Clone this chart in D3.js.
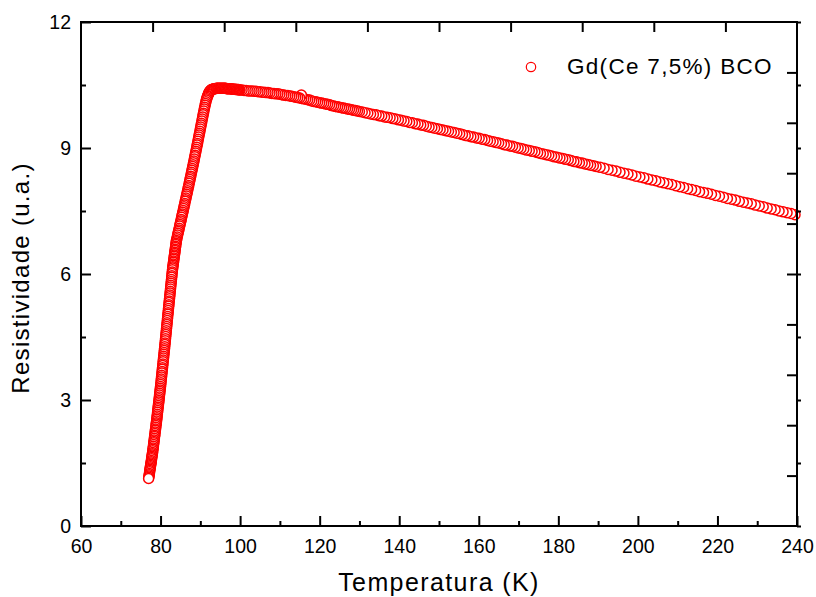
<!DOCTYPE html>
<html><head><meta charset="utf-8">
<script src="https://cdn.jsdelivr.net/npm/d3@7"></script>
<style>
body{margin:0;background:#fff}
svg{display:block}
text{font-family:Arial,"Liberation Sans",sans-serif;fill:#000}
</style>
</head><body>
<svg id="chart" width="816" height="597"></svg>
<script>
// ---- data ----
const tTransition = [
77.00,77.05,77.10,77.15,77.20,77.25,77.30,77.35,77.40,77.45,77.50,77.55,77.60,77.65,77.70,77.75,77.80,77.85,77.90,77.95,78.00,
78.05,78.10,78.15,78.20,78.25,78.30,78.35,78.40,78.45,78.50,78.55,78.60,78.65,78.70,78.75,78.80,78.85,78.90,78.95,79.00,
79.05,79.10,79.15,79.20,79.25,79.30,79.35,79.40,79.45,79.50,79.55,79.60,79.65,79.70,79.75,79.80,79.85,79.90,79.95,80.00,
80.05,80.10,80.15,80.20,80.25,80.30,80.35,80.40,80.45,80.50,80.55,80.60,80.65,80.70,80.75,80.80,80.85,80.90,80.95,81.00,
81.05,81.10,81.15,81.20,81.25,81.30,81.35,81.40,81.45,81.50,81.55,81.60,81.65,81.70,81.75,81.80,81.85,81.90,81.95,82.00,
82.05,82.10,82.15,82.20,82.25,82.30,82.35,82.40,82.45,82.50,82.55,82.60,82.65,82.70,82.75,82.80,82.85,82.90,82.95,83.00,
83.05,83.10,83.15,83.20,83.25,83.30,83.35,83.40,83.45,83.50,83.55,83.60,83.65,83.70,83.75,83.80,83.85,83.90,83.95,84.00,
84.1,84.2,84.3,84.4,84.5,84.6,84.7,84.8,84.9,85.0,
85.1,85.2,85.3,85.4,85.5,85.6,85.7,85.8,85.9,86.0,
86.1,86.2,86.3,86.4,86.5,86.6,86.7,86.8,86.9,87.0,
87.1,87.2,87.3,87.4,87.5,87.6,87.7,87.8,87.9,88.0,
88.1,88.2,88.3,88.4,88.5,88.6,88.7,88.8,88.9,89.0,
89.1,89.2,89.3,89.4,89.5,89.6,89.7,89.8,89.9,90.0,
90.1,90.2,90.3,90.4,90.5,90.6,90.7,90.8,90.9,91.0,
91.1,91.2,91.3,91.4,91.5,91.6,91.7,91.8,91.9,92.0,
92.1,92.2,92.3,92.4,92.5,92.6,92.7,92.8,92.9,93.0
];
const rTransition = [
1.13,1.16,1.19,1.22,1.25,1.29,1.32,1.35,1.38,1.41,1.44,1.47,1.50,1.53,1.56,1.60,1.63,1.66,1.69,1.72,1.75,
1.79,1.83,1.86,1.90,1.94,1.98,2.01,2.05,2.09,2.13,2.16,2.20,2.24,2.28,2.31,2.35,2.39,2.43,2.46,2.50,
2.54,2.58,2.62,2.66,2.71,2.75,2.79,2.83,2.87,2.91,2.95,2.99,3.03,3.07,3.12,3.16,3.20,3.24,3.28,3.32,
3.37,3.41,3.46,3.50,3.55,3.59,3.64,3.68,3.73,3.77,3.82,3.86,3.91,3.95,4.00,4.04,4.09,4.13,4.18,4.22,
4.27,4.32,4.36,4.41,4.46,4.51,4.56,4.60,4.65,4.70,4.75,4.80,4.84,4.89,4.94,4.99,5.04,5.08,5.13,5.18,
5.23,5.27,5.32,5.36,5.41,5.46,5.50,5.55,5.59,5.64,5.69,5.73,5.78,5.82,5.87,5.92,5.96,6.01,6.05,6.10,
6.14,6.17,6.21,6.24,6.28,6.31,6.35,6.38,6.42,6.45,6.49,6.52,6.56,6.59,6.63,6.66,6.70,6.73,6.77,6.80,
6.84,6.88,6.93,6.97,7.01,7.05,7.09,7.14,7.18,7.22,
7.26,7.30,7.35,7.39,7.43,7.47,7.51,7.56,7.60,7.64,
7.68,7.73,7.77,7.81,7.86,7.90,7.94,7.98,8.03,8.07,
8.11,8.16,8.20,8.25,8.29,8.33,8.38,8.42,8.47,8.51,
8.56,8.60,8.65,8.69,8.74,8.79,8.83,8.88,8.92,8.97,
9.02,9.07,9.11,9.16,9.21,9.26,9.31,9.35,9.40,9.45,
9.50,9.55,9.59,9.64,9.69,9.74,9.79,9.83,9.88,9.93,
9.97,10.02,10.06,10.10,10.14,10.17,10.20,10.23,10.25,10.28,
10.30,10.32,10.34,10.35,10.36,10.37,10.38,10.39,10.39,10.40
];
const tNormal = [
93.2,93.4,93.6,93.8,94.0,94.2,94.4,94.6,94.8,95.0,95.2,95.4,95.6,95.8,96.0,96.2,96.4,96.6,96.8,97.0,
97.2,97.4,97.6,97.8,98.0,98.2,98.4,98.6,98.8,99.0,99.2,99.4,99.6,99.8,100.0,
100.5,101.0,101.5,102.0,102.5,103.0,103.5,104.0,104.5,105.0,
105.5,106.0,106.5,107.0,107.5,108.0,108.5,109.0,109.5,110.0,
110.5,111.0,111.5,112.0,112.5,113.0,113.5,114.0,114.5,115.0,
115.5,116.0,116.5,117.0,117.5,118.0,118.5,119.0,119.5,120.0,
120.5,121.0,121.5,122.0,122.5,123.0,123.5,124.0,124.5,125.0,
125.5,126.0,126.5,127.0,127.5,128.0,128.5,129.0,129.5,130.0,
130.7,131.4,132.1,132.8,133.5,134.2,134.9,135.6,136.3,137.0,137.7,138.4,139.1,139.8,
140.5,141.2,141.9,142.6,143.3,144.0,144.7,145.4,146.1,146.8,147.5,148.2,148.9,149.6,
150.3,151.0,151.7,152.4,153.1,153.8,154.5,155.2,155.9,156.6,157.3,158.0,158.7,159.4,
160.1,160.8,161.5,162.2,162.9,163.6,164.3,165.0,165.7,166.4,167.1,167.8,168.5,169.2,169.9,
170.6,171.3,172.0,172.7,173.4,174.1,174.8,175.5,176.2,176.9,177.6,178.3,179.0,179.7,
180.4,181.1,181.8,182.5,183.2,183.9,184.6,185.3,186.0,186.7,187.4,188.1,188.8,189.5,
190.5,191.5,192.5,193.5,194.5,195.5,196.5,197.5,198.5,199.5,
200.5,201.5,202.5,203.5,204.5,205.5,206.5,207.5,208.5,209.5,
210.5,211.5,212.5,213.5,214.5,215.5,216.5,217.5,218.5,219.5,
220.5,221.5,222.5,223.5,224.5,225.5,226.5,227.5,228.5,229.5,
230.5,231.5,232.5,233.5,234.5,235.5,236.5,237.5,238.5,239.5
];
const rNormal = [
10.40,10.41,10.41,10.41,10.42,10.42,10.42,10.42,10.42,10.42,10.42,10.42,10.42,10.42,10.42,10.42,10.42,10.41,10.41,10.41,
10.41,10.41,10.41,10.41,10.40,10.40,10.40,10.40,10.40,10.39,10.39,10.39,10.39,10.38,10.38,
10.38,10.37,10.37,10.36,10.36,10.36,10.35,10.35,10.34,10.34,
10.33,10.33,10.32,10.32,10.31,10.30,10.30,10.29,10.29,10.28,
10.27,10.26,10.25,10.25,10.24,10.23,10.22,10.21,10.20,10.19,
10.18,10.17,10.16,10.15,10.14,10.12,10.11,10.10,10.09,10.08,
10.07,10.06,10.05,10.04,10.03,10.01,10.00,9.99,9.98,9.97,
9.96,9.95,9.94,9.93,9.92,9.91,9.90,9.89,9.88,9.87,
9.86,9.84,9.83,9.81,9.80,9.79,9.77,9.76,9.74,9.73,9.72,9.70,9.69,9.67,
9.66,9.64,9.63,9.61,9.60,9.58,9.57,9.55,9.54,9.52,9.50,9.49,9.47,9.46,
9.44,9.43,9.41,9.40,9.38,9.37,9.35,9.34,9.32,9.30,9.29,9.27,9.26,9.24,
9.23,9.21,9.20,9.18,9.16,9.15,9.13,9.12,9.10,9.08,9.07,9.05,9.04,9.02,9.00,
8.99,8.97,8.95,8.94,8.92,8.91,8.89,8.87,8.86,8.84,8.83,8.81,8.79,8.78,
8.76,8.75,8.73,8.72,8.70,8.68,8.67,8.65,8.64,8.62,8.61,8.59,8.58,8.56,
8.54,8.52,8.49,8.47,8.45,8.42,8.40,8.38,8.36,8.33,
8.31,8.29,8.26,8.24,8.22,8.19,8.17,8.15,8.13,8.10,
8.08,8.06,8.03,8.01,7.99,7.96,7.94,7.92,7.90,7.87,
7.85,7.83,7.80,7.78,7.76,7.73,7.71,7.69,7.67,7.64,
7.62,7.60,7.57,7.55,7.53,7.50,7.48,7.46,7.44,7.41
];
const tOutlier = [115.4];
const rOutlier = [10.26];

const seriesName = "Gd(Ce 7,5%) BCO";
const xTitle = "Temperatura (K)";
const yTitle = "Resistividade (u.a.)";
const xMajorTicks = [60,80,100,120,140,160,180,200,220,240];
const xMinorTicks = [70,90,110,130,150,170,190,210,230];
const yMajorTicks = [0,3,6,9,12];
const yMinorTicks = [1.5,4.5,7.5,10.5];
const layer2Ticks = [1,2,3,4,5,6,7,8,9];

// ---- layout ----
const box = {left:81, right:797, top:22, bottom:526};
const svg = d3.select('#chart');
const x = d3.scaleLinear().domain([60,240]).range([box.left, box.right]);
const y = d3.scaleLinear().domain([0,12]).range([box.bottom, box.top]);
const x2 = d3.scaleLinear().domain([0,10]).range([box.left, box.right]);
const y2 = d3.scaleLinear().domain([0,10]).range([box.bottom, box.top]);

const points = [];
tTransition.forEach((t,i)=>points.push({t, r:rTransition[i]}));
tNormal.forEach((t,i)=>points.push({t, r:rNormal[i]}));
tOutlier.forEach((t,i)=>points.push({t, r:rOutlier[i]}));
// measured while cooling: draw from high to low temperature
points.sort((a,b)=>b.t-a.t);

const RED = '#ff0000';
const R_SYM = 5;

svg.append('g').selectAll('circle').data(points).join('circle')
  .attr('cx', d=>x(d.t)).attr('cy', d=>y(d.r)).attr('r', R_SYM)
  .attr('fill', '#fff').attr('stroke', RED).attr('stroke-width', 1.5);

// ---- axes ----
function styleAxis(g, fs){
  g.select('.domain').remove();
  g.selectAll('.tick line').attr('stroke','#000').attr('stroke-width',2);
  g.selectAll('.tick text').attr('font-size', fs).attr('fill','#000')
    .style('font-family','Arial, "Liberation Sans", sans-serif');
}
const FS = 19.5;
// bottom
svg.append('g').attr('transform',`translate(0,${box.bottom})`)
  .call(d3.axisBottom(x).tickValues(xMajorTicks).tickSize(-10).tickPadding(13).tickFormat(d3.format('d')))
  .call(g=>styleAxis(g,FS));
svg.append('g').attr('transform',`translate(0,${box.bottom})`)
  .call(d3.axisBottom(x).tickValues(xMinorTicks).tickSize(-5).tickFormat(''))
  .call(g=>styleAxis(g,FS));
// left
svg.append('g').attr('transform',`translate(${box.left},0)`)
  .call(d3.axisLeft(y).tickValues(yMajorTicks).tickSize(-10).tickPadding(10).tickFormat(d3.format('d')))
  .call(g=>styleAxis(g,FS));
svg.append('g').attr('transform',`translate(${box.left},0)`)
  .call(d3.axisLeft(y).tickValues(yMinorTicks).tickSize(-5).tickFormat(''))
  .call(g=>styleAxis(g,FS));
// top (second layer, unlabeled)
svg.append('g').attr('transform',`translate(0,${box.top})`)
  .call(d3.axisTop(x2).tickValues(layer2Ticks).tickSize(-10).tickFormat(''))
  .call(g=>styleAxis(g,FS));
// right (second layer, unlabeled)
svg.append('g').attr('transform',`translate(${box.right},0)`)
  .call(d3.axisRight(y2).tickValues(layer2Ticks).tickSize(-10).tickFormat(''))
  .call(g=>styleAxis(g,FS));
svg.append('g').attr('transform',`translate(${box.right},0)`)
  .call(d3.axisRight(y).tickValues(yMajorTicks.concat(yMinorTicks)).tickSize(4).tickFormat(''))
  .call(g=>styleAxis(g,FS));

// frame
svg.append('rect').attr('x',box.left).attr('y',box.top)
  .attr('width',box.right-box.left).attr('height',box.bottom-box.top)
  .attr('fill','none').attr('stroke','#000').attr('stroke-width',2);

// titles
svg.append('text').attr('x',(box.left+box.right)/2).attr('y',591)
  .attr('text-anchor','middle').attr('font-size',25).style('letter-spacing','1.4px')
  .text(xTitle);
svg.append('text').attr('transform',`translate(29,${(box.top+box.bottom)/2+4}) rotate(-90)`)
  .attr('text-anchor','middle').attr('font-size',24).style('letter-spacing','1.3px')
  .text(yTitle);

// legend
const lg = svg.append('g');
lg.append('circle').attr('cx',531).attr('cy',67).attr('r',4.7)
  .attr('fill','#fff').attr('stroke',RED).attr('stroke-width',1.2);
lg.append('text').attr('x',567).attr('y',74).attr('font-size',22.5)
  .style('letter-spacing','1.3px').text(seriesName);
</script>
</body></html>
